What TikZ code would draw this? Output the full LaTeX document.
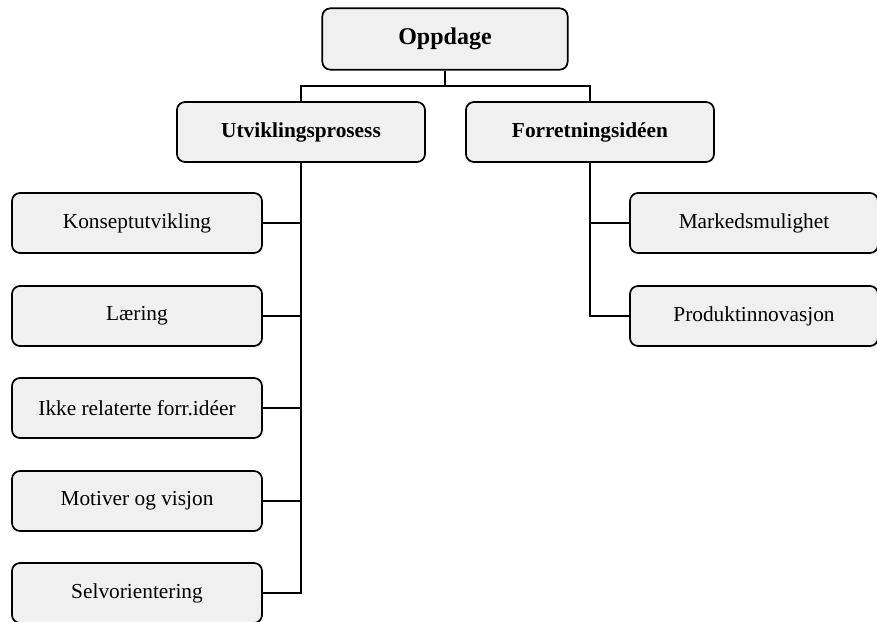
\documentclass[tikz,border=0pt]{standalone}
\usepackage{fontspec}
\setmainfont{Liberation Serif}
\begin{document}
\begin{tikzpicture}[x=0.75pt,y=-0.75pt,
  box/.style={draw=black, line width=1.3pt, fill=gray!12, rounded corners=6pt,
    minimum width=186pt, minimum height=45pt, inner sep=0pt,
    font=\fontsize{16}{19}\selectfont},
  head/.style={box, font=\fontsize{16}{19}\selectfont\bfseries},
  link/.style={line width=1.3pt, draw=black}]
\useasboundingbox (0,0) rectangle (877,621);

% top level
\node[head, minimum width=184pt, minimum height=46pt,
  font=\fontsize{18}{21}\selectfont\bfseries] (top) at (445,39) {\raisebox{-2pt}{Oppdage}};

% second level
\node[head] (utv) at (301,132) {Utviklingsprosess};
\node[head] (forr) at (590,132) {Forretningsidéen};

% branches of the development process
\node[box, minimum width=187.5pt] (k1) at (137,223) {\raisebox{-1.5pt}{Konseptutvikling}};
\node[box, minimum width=187.5pt] (k2) at (137,316) {\raisebox{-1.5pt}{Læring}};
\node[box, minimum width=187.5pt] (k3) at (137,408) {\raisebox{-1.5pt}{Ikke relaterte forr.idéer}};
\node[box, minimum width=187.5pt] (k4) at (137,501) {\raisebox{-1.5pt}{Motiver og visjon}};
\node[box, minimum width=187.5pt] (k5) at (137,593) {\raisebox{-1.5pt}{Selvorientering}};

% branches of the business idea
\node[box] (m1) at (754,223) {\raisebox{-1.5pt}{Markedsmulighet}};
\node[box] (m2) at (754,316) {\raisebox{-1.5pt}{Produktinnovasjon}};

% connectors
\coordinate (bus) at (445,86);
\draw[link] (top.south) -- (bus);
\draw[link] (utv.north) |- (bus) -| (forr.north);

\draw[link] (utv.south) |- (k5.east);
\foreach \n in {k1,k2,k3,k4}
  \draw[link] (\n.east) -- (\n.east -| utv.south);

\draw[link] (forr.south) |- (m2.west);
\draw[link] (m1.west) -- (m1.west -| forr.south);
\end{tikzpicture}
\end{document}
